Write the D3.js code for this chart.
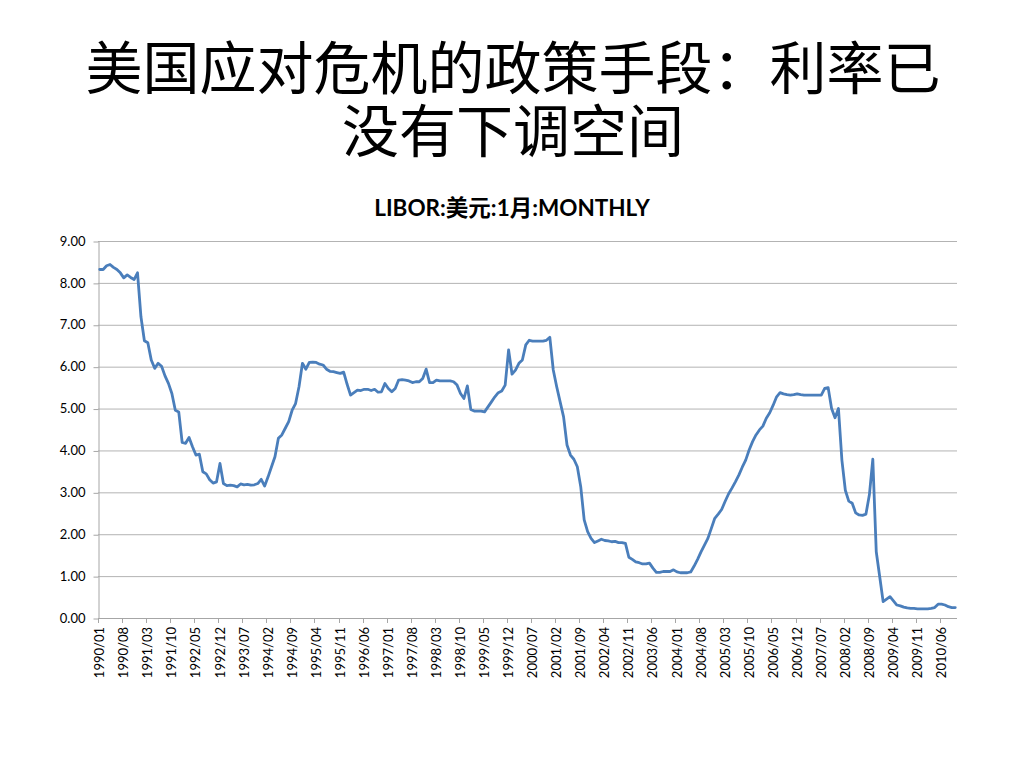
<!DOCTYPE html>
<html>
<head>
<meta charset="utf-8">
<script src="https://cdn.jsdelivr.net/npm/d3@7/dist/d3.min.js"></script>
<style>
  html, body { margin: 0; padding: 0; background: #ffffff; }
  svg { display: block; }
  #wrap { position: relative; width: 1024px; height: 768px; }
  #title {
    position: absolute; left: 0; top: 32.6px; width: 1026px;
    text-align: center; font-family: 'Noto Sans CJK SC', sans-serif;
    font-size: 57px; line-height: 63px; font-weight: 400; color: #000;
  }
</style>
</head>
<body>
<div id="wrap">
<svg id="chart" width="1024" height="768"></svg>
<div id="title"></div>
</div>
<script>
// ---------------- DATA ----------------
const titleLines = ["美国应对危机的政策手段：利率已", "没有下调空间"];
const chartTitle = "LIBOR:美元:1月:MONTHLY";

// Categories: monthly, 1990/01 .. 2010/10 (250 months)
const startYear = 1990, startMonth = 1, monthCount = 250;
const categories = [];
for (let k = 0; k < monthCount; k++) {
  const m = startMonth - 1 + k;
  const yy = startYear + Math.floor(m / 12);
  const mm = (m % 12) + 1;
  categories.push(yy + "/" + (mm < 10 ? "0" + mm : "" + mm));
}

// LIBOR 1-month USD, monthly values (%)
const values1990 = [8.32, 8.32, 8.41, 8.44, 8.37, 8.32, 8.24, 8.12, 8.19, 8.13, 8.08, 8.24];
const values1991 = [7.19, 6.62, 6.57, 6.16, 5.96, 6.08, 6.01, 5.78, 5.60, 5.36, 4.96, 4.92];
const values1992 = [4.19, 4.17, 4.31, 4.09, 3.89, 3.91, 3.49, 3.44, 3.30, 3.22, 3.25, 3.69];
const values1993 = [3.21, 3.16, 3.17, 3.16, 3.13, 3.20, 3.18, 3.19, 3.17, 3.18, 3.21, 3.31];
const values1994 = [3.15, 3.37, 3.61, 3.85, 4.29, 4.37, 4.53, 4.69, 4.96, 5.12, 5.52, 6.08];
const values1995 = [5.94, 6.10, 6.11, 6.10, 6.06, 6.04, 5.94, 5.89, 5.88, 5.86, 5.84, 5.87];
const values1996 = [5.58, 5.32, 5.38, 5.44, 5.43, 5.46, 5.46, 5.43, 5.46, 5.39, 5.40, 5.60];
const values1997 = [5.48, 5.40, 5.48, 5.68, 5.69, 5.68, 5.66, 5.62, 5.64, 5.64, 5.72, 5.94];
const values1998 = [5.62, 5.62, 5.68, 5.66, 5.66, 5.66, 5.66, 5.64, 5.56, 5.36, 5.24, 5.54];
const values1999 = [4.98, 4.94, 4.94, 4.94, 4.92, 5.04, 5.16, 5.28, 5.38, 5.42, 5.56, 6.40];
const values2000 = [5.82, 5.92, 6.08, 6.16, 6.52, 6.63, 6.61, 6.61, 6.61, 6.61, 6.63, 6.70];
const values2001 = [5.92, 5.52, 5.16, 4.80, 4.13, 3.89, 3.79, 3.61, 3.13, 2.34, 2.06, 1.90];
const values2002 = [1.80, 1.84, 1.88, 1.85, 1.84, 1.82, 1.83, 1.80, 1.80, 1.78, 1.45, 1.40];
const values2003 = [1.34, 1.32, 1.29, 1.29, 1.31, 1.19, 1.09, 1.09, 1.11, 1.11, 1.11, 1.15];
const values2004 = [1.10, 1.08, 1.08, 1.08, 1.10, 1.24, 1.40, 1.58, 1.74, 1.90, 2.14, 2.38];
const values2005 = [2.48, 2.59, 2.78, 2.96, 3.10, 3.25, 3.41, 3.60, 3.77, 4.01, 4.21, 4.37];
const values2006 = [4.49, 4.58, 4.77, 4.90, 5.08, 5.28, 5.38, 5.35, 5.33, 5.32, 5.33, 5.35];
const values2007 = [5.33, 5.32, 5.32, 5.32, 5.32, 5.32, 5.32, 5.48, 5.50, 5.00, 4.78, 5.00];
const values2008 = [3.77, 3.05, 2.79, 2.74, 2.51, 2.46, 2.45, 2.48, 2.94, 3.79, 1.58, 0.99];
const values2009 = [0.39, 0.45, 0.51, 0.41, 0.31, 0.29, 0.26, 0.24, 0.23, 0.23, 0.22, 0.22];
const values2010 = [0.22, 0.22, 0.23, 0.25, 0.33, 0.33, 0.31, 0.27, 0.25, 0.25];

const liborValues = [].concat(values1990, values1991, values1992, values1993, values1994,
  values1995, values1996, values1997, values1998, values1999, values2000, values2001,
  values2002, values2003, values2004, values2005, values2006, values2007, values2008,
  values2009, values2010);

const yTicks = [0, 1, 2, 3, 4, 5, 6, 7, 8, 9];
const xTickEvery = 7;
const xTickLabels = categories.filter((c, i) => i % xTickEvery === 0);

// ---------------- DRAW ----------------
const svg = d3.select("#chart");
const plotLeft = 98, plotRight = 957, plotTop = 241, plotBottom = 618;

const x = d3.scaleBand().domain(categories).range([plotLeft, plotRight]).paddingInner(0).paddingOuter(0);
const y = d3.scaleLinear().domain([0, 9]).range([plotBottom, plotTop]);

// Main title (one block, two lines)
d3.select("#title").html(titleLines.join("<br>"));

// Chart title
svg.append("text")
  .attr("x", 512).attr("y", 216)
  .attr("text-anchor", "middle")
  .style("font-family", "Lato, 'Noto Sans CJK SC', sans-serif")
  .style("font-size", "22.5px")
  .style("font-weight", "bold")
  .attr("fill", "#000")
  .text(chartTitle);

// Gridlines
svg.append("g").selectAll("line").data(yTicks.filter(d => d > 0)).join("line")
  .attr("x1", plotLeft).attr("x2", plotRight)
  .attr("y1", d => y(d) + 0.5).attr("y2", d => y(d) + 0.5)
  .attr("stroke", "#b3b3b3").attr("stroke-width", 1);

// Y axis
const yAxis = svg.append("g")
  .attr("transform", `translate(${plotLeft + 0.5},0)`)
  .call(d3.axisLeft(y).tickValues(yTicks).tickFormat(d3.format(".2f")).tickSize(5).tickSizeOuter(0).tickPadding(8));
yAxis.select(".domain").attr("stroke", "#a6a6a6");
yAxis.selectAll(".tick line").attr("stroke", "#a6a6a6").attr("transform", "translate(0,0.5)");
yAxis.selectAll("text")
  .style("font-family", "Lato, sans-serif").style("font-size", "13px").attr("fill", "#000");

// X axis line
svg.append("line")
  .attr("x1", plotLeft).attr("x2", plotRight)
  .attr("y1", y(0) + 0.5).attr("y2", y(0) + 0.5)
  .attr("stroke", "#a6a6a6");

// X tick marks at band starts
svg.append("g").selectAll("line").data(xTickLabels).join("line")
  .attr("x1", d => Math.round(x(d)) + 0.5).attr("x2", d => Math.round(x(d)) + 0.5)
  .attr("y1", y(0)).attr("y2", y(0) + 5)
  .attr("stroke", "#a6a6a6");

// X labels (rotated) centered on band
svg.append("g").selectAll("text").data(xTickLabels).join("text")
  .attr("transform", d => `translate(${x(d) + x.bandwidth() / 2},${y(0) + 9}) rotate(-90)`)
  .attr("text-anchor", "end")
  .attr("dy", "0.35em")
  .style("font-family", "Lato, sans-serif").style("font-size", "13px")
  .attr("fill", "#000")
  .text(d => d);

// Line
const line = d3.line()
  .x((d, i) => x(categories[i]) + x.bandwidth() / 2)
  .y(d => y(d));
svg.append("path")
  .datum(liborValues)
  .attr("fill", "none")
  .attr("stroke", "#4a7ebb")
  .attr("stroke-width", 2.8)
  .attr("stroke-linejoin", "round")
  .attr("stroke-linecap", "round")
  .attr("d", line);
</script>
</body>
</html>
